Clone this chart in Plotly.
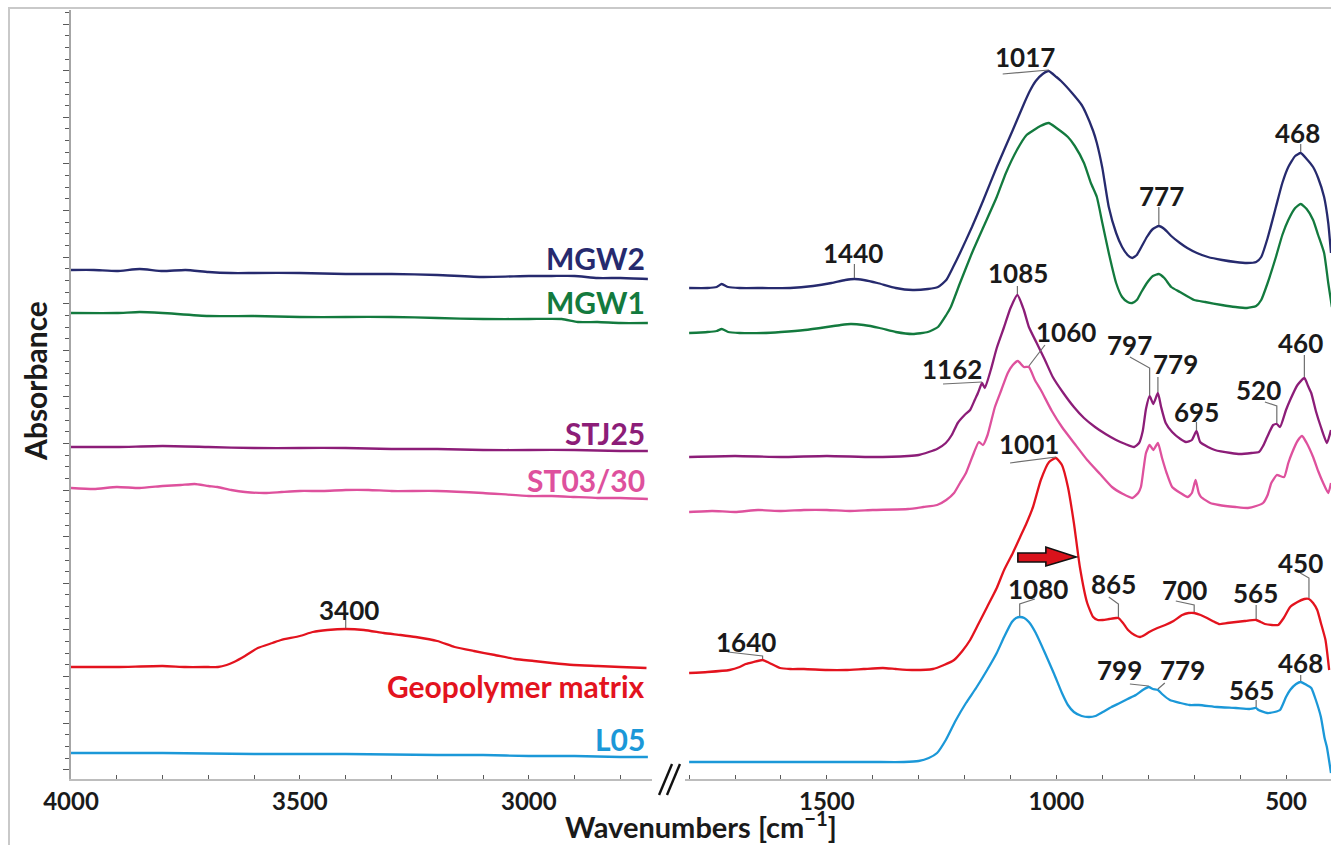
import numpy as np
import plotly.graph_objects as go

# ---------------- FTIR spectra (stacked, absorbance in arbitrary offset units) ----------------
# High-wavenumber window, 4000-2740 cm-1
mgw2_hi_wn = [4000, 3950, 3900, 3850, 3800, 3750, 3700, 3650, 3600, 3500, 3400, 3300, 3200, 3100, 3000, 2950, 2900, 2850, 2800, 2740]
mgw2_hi_abs = [5.23, 5.23, 5.22, 5.24, 5.22, 5.23, 5.21, 5.20, 5.20, 5.20, 5.19, 5.19, 5.18, 5.16, 5.17, 5.17, 5.17, 5.15, 5.15, 5.14]

mgw1_hi_wn = [4000, 3900, 3850, 3800, 3700, 3600, 3500, 3400, 3300, 3200, 3100, 3000, 2928, 2893, 2850, 2800, 2740]
mgw1_hi_abs = [4.80, 4.80, 4.81, 4.80, 4.77, 4.77, 4.76, 4.76, 4.76, 4.75, 4.74, 4.74, 4.74, 4.71, 4.71, 4.70, 4.70]

stj25_hi_wn = [4000, 3900, 3800, 3700, 3600, 3500, 3400, 3300, 3200, 3100, 3000, 2900, 2800, 2740]
stj25_hi_abs = [3.46, 3.46, 3.47, 3.46, 3.45, 3.45, 3.45, 3.44, 3.44, 3.43, 3.43, 3.43, 3.42, 3.42]

st0330_hi_wn = [4000, 3950, 3900, 3850, 3800, 3760, 3730, 3700, 3680, 3650, 3620, 3576, 3540, 3500, 3450, 3400,
                3350, 3300, 3200, 3100, 3000, 2950, 2900, 2850, 2800, 2740]
st0330_hi_abs = [3.05, 3.04, 3.06, 3.05, 3.07, 3.08, 3.09, 3.07, 3.06, 3.03, 3.01, 3.00, 3.01, 3.02, 3.02, 3.03,
                 3.03, 3.02, 3.02, 3.00, 2.97, 2.97, 2.96, 2.95, 2.95, 2.94]

geo_hi_wn = [4000, 3900, 3800, 3750, 3700, 3679, 3660, 3644, 3620, 3592, 3560, 3541, 3500, 3472, 3440, 3400,
             3360, 3317, 3280, 3247, 3200, 3162, 3120, 3074, 3030, 2989, 2950, 2902, 2850, 2800, 2743]
geo_hi_abs = [1.26, 1.26, 1.27, 1.26, 1.26, 1.26, 1.28, 1.31, 1.37, 1.45, 1.50, 1.53, 1.57, 1.61, 1.63, 1.64,
              1.63, 1.60, 1.58, 1.56, 1.52, 1.46, 1.42, 1.38, 1.34, 1.32, 1.30, 1.28, 1.27, 1.26, 1.25]

l05_hi_wn = [4000, 3800, 3600, 3500, 3400, 3200, 3100, 3000, 2900, 2800, 2740]
l05_hi_abs = [0.40, 0.40, 0.39, 0.39, 0.39, 0.38, 0.38, 0.37, 0.37, 0.36, 0.36]

# Fingerprint window, 1800-400 cm-1
mgw2_lo_wn = [1800, 1760, 1740, 1729, 1715, 1690, 1640, 1580, 1530, 1490, 1460, 1440, 1420, 1390, 1350, 1313,
              1280, 1258, 1240, 1225, 1210, 1184, 1160, 1130, 1095, 1070, 1058, 1045, 1030, 1017, 1000, 990,
              966, 945, 936, 920, 912, 900, 886, 870, 857, 845, 835, 825, 815, 803, 790, 777, 765, 750, 731,
              715, 694, 670, 639, 610, 585, 565, 554, 540, 522, 508, 495, 480, 468, 455, 441, 430, 417, 408, 402]
mgw2_lo_abs = [5.05, 5.05, 5.06, 5.09, 5.06, 5.05, 5.05, 5.05, 5.07, 5.10, 5.13, 5.14, 5.13, 5.10, 5.05, 5.03,
               5.04, 5.06, 5.13, 5.26, 5.40, 5.66, 5.92, 6.26, 6.63, 6.90, 7.02, 7.12, 7.19, 7.22, 7.16, 7.12,
               7.00, 6.88, 6.80, 6.62, 6.50, 6.25, 5.86, 5.60, 5.46, 5.38, 5.35, 5.38, 5.46, 5.56, 5.64, 5.67, 5.64, 5.57, 5.50,
               5.45, 5.40, 5.36, 5.33, 5.31, 5.30, 5.31, 5.36, 5.55, 5.86, 6.10, 6.26, 6.37, 6.40, 6.34, 6.26, 6.15, 5.96, 5.70, 5.40]

mgw1_lo_wn = [1800, 1760, 1740, 1729, 1715, 1690, 1639, 1600, 1548, 1500, 1470, 1448, 1420, 1385, 1350, 1313,
              1280, 1258, 1240, 1230, 1210, 1184, 1160, 1130, 1110, 1086, 1065, 1049, 1035, 1017, 1000, 975,
              960, 940, 925, 912, 900, 886, 870, 857, 845, 835, 825, 815, 803, 790, 777, 765, 750, 731, 700,
              676, 640, 610, 585, 565, 554, 540, 522, 508, 495, 480, 468, 455, 441, 430, 417, 408, 400]
mgw1_lo_abs = [4.60, 4.61, 4.62, 4.64, 4.61, 4.60, 4.60, 4.61, 4.63, 4.66, 4.68, 4.69, 4.68, 4.65, 4.61, 4.59,
               4.61, 4.66, 4.78, 4.86, 5.10, 5.40, 5.65, 5.96, 6.20, 6.43, 6.58, 6.63, 6.67, 6.70, 6.65, 6.56,
               6.47, 6.30, 6.10, 5.96, 5.70, 5.40, 5.10, 4.96, 4.91, 4.90, 4.93, 5.01, 5.10, 5.17, 5.19, 5.15, 5.06, 5.01, 4.93,
               4.91, 4.88, 4.86, 4.85, 4.87, 4.93, 5.10, 5.36, 5.58, 5.73, 5.85, 5.89, 5.84, 5.73, 5.58, 5.40, 5.10, 4.86]

stj25_lo_wn = [1800, 1700, 1600, 1500, 1400, 1323, 1300, 1278, 1260, 1241, 1228, 1215, 1200, 1188, 1178, 1171,
               1162, 1156, 1143, 1130, 1114, 1100, 1085, 1071, 1060, 1043, 1025, 1008, 985, 962, 940, 916, 893,
               870, 850, 831, 820, 812, 805, 797, 789, 779, 772, 762, 748, 730, 718, 705, 695, 687, 670, 655,
               620, 600, 575, 559, 550, 541, 528, 520, 513, 500, 491, 475, 460, 452, 445, 435, 424, 411, 402]
stj25_lo_abs = [3.36, 3.37, 3.36, 3.37, 3.36, 3.37, 3.38, 3.41, 3.44, 3.50, 3.58, 3.70, 3.78, 3.83, 3.93, 4.00,
                4.10, 4.05, 4.23, 4.45, 4.66, 4.85, 4.98, 4.83, 4.66, 4.50, 4.33, 4.16, 4.00, 3.86, 3.75, 3.66, 3.59,
                3.53, 3.49, 3.46, 3.50, 3.62, 3.84, 3.97, 3.89, 4.00, 3.86, 3.70, 3.61, 3.54, 3.51, 3.53, 3.62, 3.51, 3.46, 3.43,
                3.40, 3.39, 3.40, 3.41, 3.47, 3.56, 3.68, 3.69, 3.66, 3.83, 3.93, 4.08, 4.15, 4.07, 4.00, 3.82, 3.66, 3.50, 3.63]

st0330_lo_wn = [1800, 1750, 1700, 1650, 1600, 1550, 1500, 1450, 1400, 1323, 1290, 1260, 1240, 1223, 1210, 1197,
                1180, 1169, 1160, 1150, 1134, 1120, 1106, 1095, 1084, 1071, 1060, 1047, 1034, 1010, 988, 960,
                933, 905, 879, 855, 835, 822, 816, 810, 805, 797, 789, 779, 770, 760, 748, 730, 714, 705, 697,
                690, 685, 665, 646, 610, 583, 565, 550, 540, 532, 520, 513, 504, 495, 487, 475, 465, 455, 441,
                430, 419, 408, 402]
st0330_lo_abs = [2.81, 2.82, 2.81, 2.83, 2.82, 2.83, 2.83, 2.82, 2.83, 2.84, 2.86, 2.88, 2.93, 3.00, 3.10, 3.20,
                 3.40, 3.51, 3.48, 3.58, 3.86, 4.03, 4.20, 4.28, 4.32, 4.26, 4.26, 4.13, 4.03, 3.82, 3.66, 3.49,
                 3.33, 3.19, 3.06, 2.99, 2.95, 3.00, 3.06, 3.25, 3.40, 3.48, 3.43, 3.50, 3.35, 3.20, 3.06, 3.00, 2.96, 3.00, 3.13,
                 3.00, 2.96, 2.90, 2.88, 2.86, 2.85, 2.87, 2.90, 2.98, 3.10, 3.18, 3.17, 3.16, 3.30, 3.40, 3.52, 3.57, 3.50, 3.36,
                 3.22, 3.10, 3.00, 3.10]

geo_lo_wn = [1800, 1760, 1712, 1690, 1677, 1660, 1640, 1625, 1602, 1580, 1550, 1500, 1459, 1420, 1378, 1350,
             1315, 1269, 1245, 1223, 1205, 1188, 1170, 1151, 1130, 1114, 1095, 1079, 1065, 1051, 1034, 1016,
             1001, 988, 975, 962, 949, 933, 920, 910, 899, 885, 870, 865, 855, 844, 830, 818, 808, 798, 780,
             763, 745, 726, 712, 700, 686, 672, 660, 646, 628, 609, 590, 565, 555, 546, 530, 517, 505, 491,
             475, 460, 450, 441, 432, 424, 414, 406]
geo_lo_abs = [1.20, 1.21, 1.23, 1.26, 1.29, 1.31, 1.33, 1.30, 1.25, 1.24, 1.24, 1.23, 1.23, 1.24, 1.25, 1.24,
              1.23, 1.24, 1.28, 1.33, 1.42, 1.53, 1.69, 1.86, 2.05, 2.23, 2.40, 2.56, 2.70, 2.86, 3.13, 3.31,
              3.35, 3.28, 3.06, 2.70, 2.26, 1.90, 1.76, 1.73, 1.73, 1.74, 1.75, 1.75, 1.70, 1.63, 1.58, 1.56, 1.58, 1.61, 1.65,
              1.68, 1.72, 1.78, 1.80, 1.80, 1.78, 1.75, 1.72, 1.69, 1.70, 1.71, 1.72, 1.73, 1.71, 1.69, 1.68, 1.68, 1.75, 1.86,
              1.91, 1.94, 1.94, 1.90, 1.83, 1.70, 1.53, 1.23]

l05_lo_wn = [1800, 1700, 1600, 1500, 1400, 1332, 1300, 1278, 1260, 1241, 1220, 1197, 1175, 1151, 1130, 1114,
             1097, 1088, 1080, 1070, 1060, 1045, 1025, 1005, 988, 975, 962, 945, 929, 915, 899, 880, 862, 845,
             827, 812, 799, 790, 779, 770, 753, 730, 710, 690, 650, 609, 580, 565, 560, 541, 525, 513, 500,
             491, 478, 468, 455, 445, 435, 424, 416, 411, 402]
l05_lo_abs = [0.31, 0.31, 0.31, 0.31, 0.31, 0.31, 0.32, 0.35, 0.40, 0.53, 0.72, 0.90, 1.05, 1.23, 1.40, 1.56,
              1.71, 1.75, 1.76, 1.75, 1.71, 1.60, 1.40, 1.19, 1.00, 0.88, 0.81, 0.77, 0.76, 0.77, 0.81, 0.86, 0.90, 0.94,
              0.98, 1.03, 1.06, 1.04, 1.03, 0.99, 0.93, 0.90, 0.88, 0.88, 0.86, 0.85, 0.84, 0.85, 0.83, 0.80, 0.81, 0.83, 0.96,
              1.03, 1.09, 1.11, 1.08, 1.05, 0.93, 0.76, 0.55, 0.46, 0.20]

# Assigned band positions (cm-1)
mgw2_peaks = [1440, 1017, 777, 468]
stj25_peaks = [1162, 1085, 797, 779, 695, 520, 460]
st0330_peaks = [1060]
geo_peaks_hi = [3400]
geo_peaks = [1640, 1001, 865, 700, 565, 450]
l05_peaks = [1080, 799, 779, 565, 468]

# ---------------- styling ----------------
FONT = "Lato"
INK = "#1a1a1a"
W, H = 1331, 845
ML, MR, MT, MB = 71, 0, 10, 66
Y_RANGE = [0.14, 7.83]
X_HI_RANGE = [4000, 2731]
X_LO_RANGE = [1809, 402]
HI_DOMAIN = [0.0, 0.4611]
LO_DOMAIN = [0.4873, 1.0]

series = [
    # name, colour, hi-wn, hi-abs, lo-wn, lo-abs, name-label height
    ("MGW2", "#262a6e", mgw2_hi_wn, mgw2_hi_abs, mgw2_lo_wn, mgw2_lo_abs, 5.35),
    ("MGW1", "#137a3e", mgw1_hi_wn, mgw1_hi_abs, mgw1_lo_wn, mgw1_lo_abs, 4.91),
    ("STJ25", "#8c1d78", stj25_hi_wn, stj25_hi_abs, stj25_lo_wn, stj25_lo_abs, 3.60),
    ("ST03/30", "#de519d", st0330_hi_wn, st0330_hi_abs, st0330_lo_wn, st0330_lo_abs, 3.13),
    ("Geopolymer matrix", "#e3131e", geo_hi_wn, geo_hi_abs, geo_lo_wn, geo_lo_abs, 1.07),
    ("L05", "#1b98d8", l05_hi_wn, l05_hi_abs, l05_lo_wn, l05_lo_abs, 0.54),
]

# where each band label sits: (series, band) -> (label wn, label abs, leader waypoints)
label_layout = {
    ("MGW2", 1440): (1443, 5.40, [(1440, 5.29)]),
    ("MGW2", 1017): (1069, 7.36, [(1117, 7.19)]),
    ("MGW2", 777): (772, 5.97, [(777, 5.86)]),
    ("MGW2", 468): (474, 6.60, [(468, 6.49)]),
    ("STJ25", 1162): (1228, 4.24, [(1247, 4.09)]),
    ("STJ25", 1085): (1084, 5.20, [(1085, 5.07)]),
    ("STJ25", 797): (840, 4.48, [(840, 4.36), (797, 4.25)]),
    ("STJ25", 779): (740, 4.29, [(779, 4.16)]),
    ("STJ25", 695): (694, 3.81, [(695, 3.71)]),
    ("STJ25", 520): (559, 4.03, [(546, 3.91), (520, 3.87)]),
    ("STJ25", 460): (469, 4.50, [(460, 4.38)]),
    ("ST03/30", 1060): (979, 4.61, [(1025, 4.48)]),
    ("Geopolymer matrix", 3400): (3393, 1.83, [(3400, 1.73)]),
    ("Geopolymer matrix", 1640): (1676, 1.51, [(1716, 1.41), (1640, 1.37)]),
    ("Geopolymer matrix", 1001): (1060, 3.49, [(1101, 3.30)]),
    ("Geopolymer matrix", 865): (875, 2.09, [(886, 1.96), (865, 1.89)]),
    ("Geopolymer matrix", 700): (722, 2.03, [(740, 1.92), (700, 1.88)]),
    ("Geopolymer matrix", 565): (567, 2.00, [(565, 1.88)]),
    ("Geopolymer matrix", 450): (469, 2.30, [(469, 2.20), (450, 2.15)]),
    ("L05", 1080): (1040, 2.04, [(1047, 1.94), (1080, 1.89)]),
    ("L05", 799): (862, 1.23, [(840, 1.09)]),
    ("L05", 779): (726, 1.23, [(764, 1.10)]),
    ("L05", 565): (576, 1.03, [(565, 0.93)]),
    ("L05", 468): (469, 1.30, [(468, 1.18)]),
}

band_sets = [
    ("MGW2", "lo", mgw2_peaks),
    ("STJ25", "lo", stj25_peaks),
    ("ST03/30", "lo", st0330_peaks),
    ("Geopolymer matrix", "hi", geo_peaks_hi),
    ("Geopolymer matrix", "lo", geo_peaks),
    ("L05", "lo", l05_peaks),
]

fig = go.Figure()
curves = {}
for name, colour, hw, ha, lw, la, _ in series:
    curves[(name, "hi")] = (hw, ha)
    curves[(name, "lo")] = (lw, la)
    for xs, ys, ax in ((hw, ha, "x"), (lw, la, "x2")):
        fig.add_trace(go.Scatter(
            x=xs, y=ys, xaxis=ax, yaxis="y", mode="lines", name=name, showlegend=False,
            line=dict(color=colour, width=2.3, shape="spline", smoothing=0.5),
            hoverinfo="skip",
        ))

annotations = []
shapes = []

# series names, right-aligned at the end of the high-wavenumber window
for name, colour, *_rest, label_y in series:
    annotations.append(dict(
        x=2741, y=label_y, xref="x", yref="y", xanchor="right", yanchor="middle",
        text=name, showarrow=False,
        font=dict(family=FONT, size=30, color=colour, weight="bold"),
    ))

# band labels with thin leader lines ending on the curve
for name, window, bands in band_sets:
    xs, ys = curves[(name, window)]
    xref = "x" if window == "hi" else "x2"
    for band in bands:
        lx, ly, waypoints = label_layout[(name, band)]
        peak_abs = float(np.interp(band, xs[::-1], ys[::-1]))
        pts = list(waypoints) + [(band, peak_abs + 0.01)]
        path = "M " + " L ".join(f"{px},{py}" for px, py in pts)
        shapes.append(dict(type="path", path=path, xref=xref, yref="y",
                           line=dict(color="#6e6e6e", width=1.2)))
        annotations.append(dict(
            x=lx, y=ly, xref=xref, yref="y", xanchor="center", yanchor="middle",
            text=str(band), showarrow=False,
            font=dict(family=FONT, size=26, color=INK, weight="bold"),
        ))

# block arrow marking the band shift of the geopolymer matrix
shapes.append(dict(
    type="path", xref="x2", yref="y",
    path="M 1084,2.40 L 1023,2.40 L 1023,2.46 L 957,2.36 L 1023,2.27 L 1023,2.31 L 1084,2.31 Z",
    fillcolor="#d9121b", line=dict(color="#111111", width=1.6),
))

# axis-break marks between the two windows
for x0, x1 in ((0.4667, 0.4770), (0.4730, 0.4833)):
    shapes.append(dict(type="line", xref="paper", yref="paper",
                       x0=x0, y0=-0.0208, x1=x1, y1=0.0195,
                       line=dict(color="#111111", width=2.4)))

# light chart-area frame
shapes.append(dict(type="rect", xref="paper", yref="paper",
                   x0=-0.0492, y0=-0.2, x1=1.05, y1=1.0026,
                   line=dict(color="#c9c9c9", width=2), fillcolor="rgba(0,0,0,0)", layer="below"))

# axis titles
annotations.append(dict(
    x=0.5, y=-0.0600, xref="paper", yref="paper", xanchor="center", yanchor="middle",
    text="Wavenumbers [cm<sup>\u22121</sup>]", showarrow=False,
    font=dict(family=FONT, size=29, color=INK, weight="bold"),
))
annotations.append(dict(
    x=-0.0286, y=0.5176, xref="paper", yref="paper", xanchor="center", yanchor="middle",
    text="Absorbance", showarrow=False, textangle=-90,
    font=dict(family=FONT, size=30, color=INK, weight="bold"),
))

xaxis_common = dict(
    showline=True, linecolor="#bdbdbd", linewidth=2, showgrid=False, zeroline=False,
    ticks="inside", ticklen=4, tickwidth=1, tickcolor="#595959",
    tick0=0, dtick=500,
    minor=dict(ticks="inside", ticklen=4, tickwidth=1, tickcolor="#595959", dtick=100, showgrid=False),
    tickfont=dict(family=FONT, size=24, color=INK, weight="bold"),
    anchor="y", ticklabelstandoff=0,
)

fig.update_layout(
    width=W, height=H,
    margin=dict(l=ML, r=MR, t=MT, b=MB, autoexpand=False),
    paper_bgcolor="white", plot_bgcolor="white",
    xaxis=dict(domain=HI_DOMAIN, range=X_HI_RANGE, **xaxis_common),
    xaxis2=dict(domain=LO_DOMAIN, range=X_LO_RANGE, **xaxis_common),
    yaxis=dict(
        range=Y_RANGE, showline=True, linecolor="#a6a6a6", linewidth=2,
        showgrid=False, zeroline=False, showticklabels=False,
        ticks="outside", ticklen=6, tickwidth=1, tickcolor="#595959",
        tick0=7.69, dtick=0.466,
        minor=dict(ticks="outside", ticklen=4, tickwidth=1, tickcolor="#595959", dtick=0.1165, showgrid=False),
    ),
    annotations=annotations,
    shapes=shapes,
    showlegend=False,
)

fig.write_html("out.html")
